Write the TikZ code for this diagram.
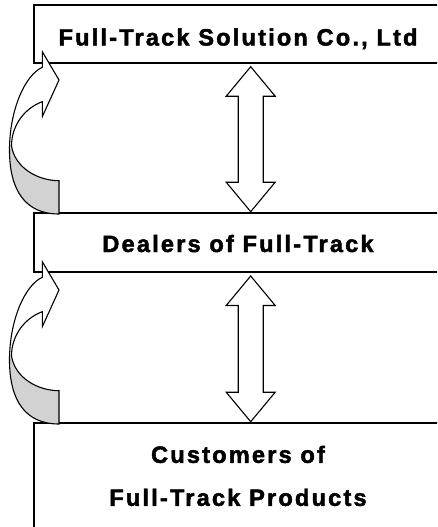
\documentclass[tikz,border=0pt]{standalone}
\usepackage{fontspec}
\setmainfont{Liberation Sans}
\newfontfamily\lblfont{Liberation Sans}[LetterSpace=9.2, FakeBold=2]
\usetikzlibrary{calc}
\definecolor{curlgray}{RGB}{210,210,210}
\newcommand{\updown}[2]{%
  \draw[dbl] (#1) -- ($(#1)+(24.5,29.5)$) -- ($(#1)+(12.5,29.5)$) -- ($(#2)+(12.5,-29.5)$)
    -- ($(#2)+(24.5,-29.5)$) -- (#2) -- ($(#2)+(-24.5,-29.5)$) -- ($(#2)+(-12.5,-29.5)$)
    -- ($(#1)+(-12.5,29.5)$) -- ($(#1)+(-24.5,29.5)$) -- cycle;}
\tikzset{
  box/.style={draw=black, line width=1.8pt, outer sep=0pt, inner sep=0pt,
    minimum width=408pt, anchor=north west},
  lbl/.style={font=\lblfont\fontsize{23.6}{43}\selectfont\bfseries, inner sep=0pt},
  dbl/.style={draw=black, fill=white, line width=1.1pt, line join=miter},
  curl/.style={draw=black, line width=1.1pt, line join=miter},
  curlarrow/.pic={
    \fill[curlgray] (0,0) .. controls (-34,0) and (-49.5,-24) .. (-49.5,-64)
      -- (-47.5,-68) .. controls (-44,-46) and (-21,-33.3) .. (0,-33.3) -- cycle;
    \fill[white] (-49.5,-64) .. controls (-49.5,-104) and (-34,-139) .. (-16.7,-146.7)
      -- (-16.7,-162.3) -- (0,-134) -- (-16.7,-97.3) -- (-16.7,-112.3)
      .. controls (-34,-106) and (-47.5,-89) .. (-47.5,-68) -- cycle;
    \draw[curl] (0,0) .. controls (-34,0) and (-49.5,-24) .. (-49.5,-64)
      .. controls (-49.5,-104) and (-34,-139) .. (-16.7,-146.7)
      -- (-16.7,-162.3) -- (0,-134) -- (-16.7,-97.3) -- (-16.7,-112.3)
      .. controls (-34,-106) and (-47.5,-89) .. (-47.5,-68)
      .. controls (-44,-46) and (-21,-33.3) .. (0,-33.3) -- cycle;
  }
}
\begin{document}
\begin{tikzpicture}[x=1pt,y=-1pt]
\clip (0,0) rectangle (437,527);
\node[box, minimum height=58pt] (b1) at (34,5) {};
\node[box, minimum height=59pt] (b2) at (34,213) {};
\node[box, minimum height=104.8pt] (b3) at (34,423) {};
\node[lbl, anchor=base] (t1) at (238,45.5) {Full-Track Solution Co., Ltd};
\node[lbl, anchor=base] (t2) at (238,252) {Dealers of Full-Track};
\node[lbl, align=center] (t3) at (238,475.9) {Customers of\\Full-Track Products};
\coordinate (p1) at ($(b1.south west)+(216.7,3.7)$);
\coordinate (q1) at ($(b2.north west)+(216.7,-1.3)$);
\coordinate (p2) at ($(b2.south west)+(216.7,4)$);
\coordinate (q2) at ($(b3.north west)+(216.7,-1.3)$);
\updown{p1}{q1}
\updown{p2}{q2}
\pic (c1) at ($(b2.north west)+(25,1)$) {curlarrow};
\pic (c2) at ($(b3.north west)+(25,1)$) {curlarrow};
\end{tikzpicture}
\end{document}
